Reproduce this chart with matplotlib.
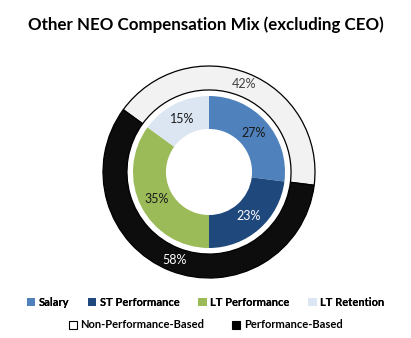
import matplotlib
matplotlib.use("Agg")
import matplotlib.pyplot as plt
from matplotlib.patches import Patch

plt.rcParams['font.family'] = ['Lato', 'DejaVu Sans']

# inner ring
comp_labels = ['Salary', 'ST Performance', 'LT Performance', 'LT Retention']
comp_values = [27, 23, 35, 15]
comp_colors = ['#4F81BD', '#1F497D', '#9BBB59', '#DCE6F2']
comp_text = ['#1a1a1a', 'white', '#1a1a1a', '#1a1a1a']

# outer ring
perf_labels = ['Non-Performance-Based', 'Performance-Based']
perf_values = [42, 58]
perf_colors = ['#F2F2F2', '#0D0D0D']
perf_text = ['#404040', 'white']

fig = plt.figure(figsize=(4.11, 3.38), dpi=100)
ax = fig.add_axes([103 / 411, 60 / 338, 212 / 411, 212 / 338])

# outer ring starts where LT Retention starts (90 + 15% of 360)
outer_start = 90 + comp_values[3] * 3.6
wedges, texts, autotexts = ax.pie(perf_values, radius=1.0, colors=perf_colors,
                                  startangle=outer_start, counterclock=False,
                                  autopct='%d%%', pctdistance=0.895,
                                  wedgeprops=dict(width=0.226, edgecolor='black', linewidth=0.9))
for t, c in zip(autotexts, perf_text):
    t.set_color(c)
    t.set_fontsize(9)

wedges2, texts2, autotexts2 = ax.pie(comp_values, radius=0.717, colors=comp_colors,
                                     startangle=90, counterclock=False,
                                     autopct='%d%%', pctdistance=0.78,
                                     wedgeprops=dict(width=0.311, edgecolor='white', linewidth=0))
for t, c in zip(autotexts2, comp_text):
    t.set_color(c)
    t.set_fontsize(9)

ax.set_xlim(-1, 1)
ax.set_ylim(-1, 1)
ax.set_aspect('equal')
ax.axis('off')

fig.text(0.5, 1 - 25 / 338, 'Other NEO Compensation Mix (excluding CEO)',
         ha='center', va='center', fontsize=12.2, fontweight='bold')

h1 = [Patch(facecolor=c, edgecolor='none') for c in comp_colors]
leg1 = fig.legend(h1, comp_labels, loc='center', bbox_to_anchor=(0.5, 1 - 302 / 338),
                  ncol=4, frameon=False, handlelength=0.75, handleheight=0.75,
                  handletextpad=0.3, columnspacing=1.7,
                  prop=dict(size=8, weight='bold'))
h2 = [Patch(facecolor=c, edgecolor='black', linewidth=0.8) for c in ['white', 'black']]
leg2 = fig.legend(h2, perf_labels, loc='center', bbox_to_anchor=(0.5, 1 - 325 / 338),
                  ncol=2, frameon=False, handlelength=0.75, handleheight=0.75,
                  handletextpad=0.3, columnspacing=2.5,
                  prop=dict(size=8, weight='bold'))
fig.add_artist(leg1)

fig.savefig('out.png', dpi=100)
